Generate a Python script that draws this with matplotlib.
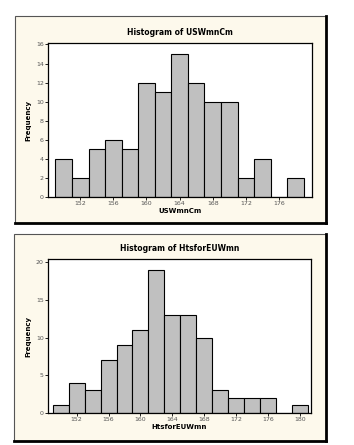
import matplotlib
matplotlib.use('Agg')

import numpy as np
import matplotlib.pyplot as plt
from matplotlib.patches import Rectangle

# Data
us_centers = [150, 152, 154, 156, 158, 160, 162, 164, 166, 168, 170, 172, 174, 176, 178]
us_counts = [4, 2, 5, 6, 5, 12, 11, 15, 12, 10, 10, 2, 4, 0, 2]
us_xticks = [152, 156, 160, 164, 168, 172, 176]
us_yticks = [0, 2, 4, 6, 8, 10, 12, 14, 16]

eu_centers = [150, 152, 154, 156, 158, 160, 162, 164, 166, 168, 170, 172, 174, 176, 178, 180]
eu_counts = [1, 4, 3, 7, 9, 11, 19, 13, 13, 10, 3, 2, 2, 2, 0, 1]
eu_xticks = [152, 156, 160, 164, 168, 172, 176, 180]
eu_yticks = [0, 5, 10, 15, 20]

W, H = 354, 445
fig = plt.figure(figsize=(W / 100, H / 100), dpi=100)
fig.patch.set_facecolor('white')

panel_bg = '#fdf9ec'
bar_col = '#c0c0c0'


def px_box(x0, y0, x1, y1):
    # pixel box (top-left origin) -> figure fraction [l, b, w, h]
    return [x0 / W, 1 - y1 / H, (x1 - x0) / W, (y1 - y0) / H]


def draw_panel(box, ax_box, centers, counts, xticks, yticks, xlim, ylim, title, xlabel):
    l, b, w, h = px_box(*box)
    # cream panel with thin top/left edge and heavy right/bottom shadow
    fig.add_artist(Rectangle((l, b), w, h, transform=fig.transFigure,
                             facecolor=panel_bg, edgecolor='#555555', lw=0.8, zorder=-2))
    fig.add_artist(plt.Line2D([l + w, l + w], [b, b + h], transform=fig.transFigure,
                              color='black', lw=2.0, zorder=-1))
    fig.add_artist(plt.Line2D([l, l + w], [b, b], transform=fig.transFigure,
                              color='black', lw=2.0, zorder=-1))

    ax = fig.add_axes(px_box(*ax_box))
    ax.set_zorder(1)
    ax.set_facecolor('white')
    ax.bar(centers, counts, width=2, color=bar_col, edgecolor='black', linewidth=0.8)
    ax.set_xlim(*xlim)
    ax.set_ylim(*ylim)
    ax.set_xticks(xticks)
    ax.set_yticks(yticks)
    ax.tick_params(labelsize=4.5, length=2, width=0.6, pad=1, colors='black',
                   labelcolor='#555555')
    for s in ax.spines.values():
        s.set_linewidth(0.9)
    ax.set_xlabel(xlabel, fontsize=5, fontweight='bold', labelpad=1)
    ax.set_ylabel('Frequency', fontsize=5, fontweight='bold', labelpad=3)
    ax.set_title(title, fontsize=5.5, fontweight='bold', pad=6)
    return ax


draw_panel((15, 16, 326, 223), (48, 43, 312, 197),
           us_centers, us_counts, us_xticks, us_yticks,
           (148.1, 180.0), (0, 16.15),
           'Histogram of USWmnCm', 'USWmnCm')

draw_panel((14, 234, 326, 441), (48, 259, 311, 413),
           eu_centers, eu_counts, eu_xticks, eu_yticks,
           (148.4, 181.4), (0, 20.4),
           'Histogram of HtsforEUWmn', 'HtsforEUWmn')

fig.savefig('out.png', dpi=100)
